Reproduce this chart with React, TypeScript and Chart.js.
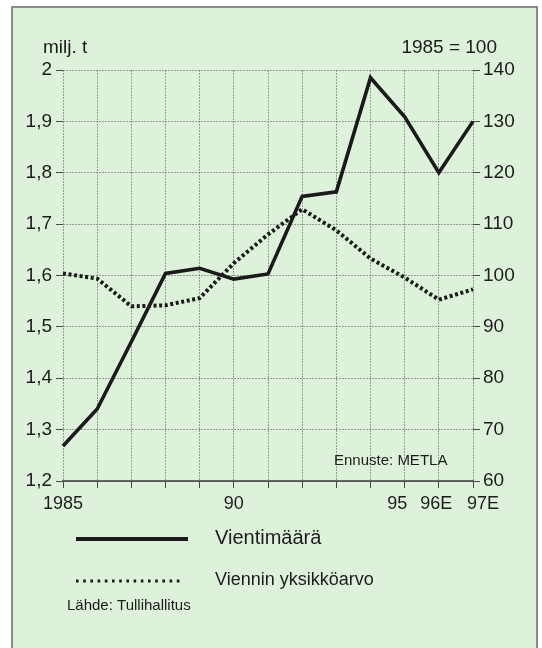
import React, { useEffect, useRef } from "react";
import { Chart, registerables } from "chart.js";

Chart.register(...registerables);

// ---- data ----
const years = ["1985", "1986", "1987", "1988", "1989", "1990", "1991", "1992", "1993", "1994", "1995", "1996E", "1997E"];
const xTickLabels = ["1985", "", "", "", "", "90", "", "", "", "", "95   ", "96E ", "    97E"];
const exportVolume = [1.268, 1.34, 1.471, 1.604, 1.614, 1.593, 1.603, 1.754, 1.763, 1.985, 1.909, 1.8, 1.9];
const unitValueIndex = [100.4, 99.4, 94.0, 94.2, 95.6, 102.4, 108.0, 112.9, 108.8, 103.3, 99.6, 95.3, 97.3];
const seriesNames = ["Vientimäärä", "Viennin yksikköarvo"];
const leftUnit = "milj. t";
const rightUnit = "1985 = 100";
const forecastNote = "Ennuste: METLA";
const sourceNote = "Lähde: Tullihallitus";

const FONT = '"Liberation Sans", Arial, Helvetica, sans-serif';
const TEXT = "#1c1c1c";
const LINE = "#1a1a1a";
const GRID = "rgba(120,132,118,0.75)";
const TICK = "#4a4a4a";

const annotations = {
  id: "annotations",
  afterDraw(chart: any) {
    const ctx = chart.ctx as CanvasRenderingContext2D;
    const area = chart.chartArea;
    ctx.save();
    // solid bottom axis line
    ctx.strokeStyle = "#3a3a3a";
    ctx.lineWidth = 1.5;
    ctx.beginPath();
    ctx.moveTo(area.left - 1, area.bottom);
    ctx.lineTo(area.right + 1, area.bottom);
    ctx.stroke();

    ctx.fillStyle = TEXT;
    ctx.textBaseline = "alphabetic";
    ctx.font = `19px ${FONT}`;
    ctx.textAlign = "left";
    ctx.fillText(leftUnit, 43, 53);
    ctx.textAlign = "right";
    ctx.fillText(rightUnit, 497, 53);
    ctx.textAlign = "left";
    ctx.font = `15px ${FONT}`;
    ctx.fillText(forecastNote, 334, 465);

    // legend
    const dsets = chart.data.datasets;
    const rows = [
      { y: 539, textY: 544, size: 20, x2: 188 },
      { y: 581, textY: 585, size: 18, x2: 184 },
    ];
    rows.forEach((r, i) => {
      const ds = dsets[i];
      ctx.save();
      ctx.strokeStyle = ds.borderColor;
      ctx.lineWidth = i === 0 ? 4 : 3;
      ctx.lineCap = "butt";
      ctx.setLineDash(i === 0 ? [] : [2.6, 4.6]);
      ctx.beginPath();
      ctx.moveTo(76, r.y);
      ctx.lineTo(r.x2, r.y);
      ctx.stroke();
      ctx.restore();
      ctx.font = `${r.size}px ${FONT}`;
      ctx.fillText(ds.label, 215, r.textY);
    });
    ctx.font = `15px ${FONT}`;
    ctx.fillText(sourceNote, 67, 610);
    ctx.restore();
  },
};

export default function App() {
  const ref = useRef<HTMLCanvasElement | null>(null);

  useEffect(() => {
    if (!ref.current) return;
    const chart = new Chart(ref.current, {
      type: "line",
      data: {
        labels: years,
        datasets: [
          {
            label: seriesNames[0],
            data: exportVolume,
            yAxisID: "y",
            borderColor: LINE,
            borderWidth: 3.6,
            pointRadius: 0,
            tension: 0,
            borderJoinStyle: "miter",
          },
          {
            label: seriesNames[1],
            data: unitValueIndex,
            yAxisID: "y1",
            borderColor: LINE,
            borderWidth: 4,
            borderDash: [3, 2.6],
            borderCapStyle: "butt",
            pointRadius: 0,
            tension: 0,
          },
        ],
      },
      options: {
        responsive: false,
        animation: false,
        events: [],
        layout: { padding: { left: 0, right: 0, top: 70, bottom: 137 } },
        plugins: { legend: { display: false }, tooltip: { enabled: false }, title: { display: false } },
        scales: {
          x: {
            type: "category",
            offset: false,
            afterFit: (s: any) => {
              s.height = 30;
            },
            grid: {
              color: GRID,
              lineWidth: 1,
              drawTicks: true,
              tickLength: 7,
              tickColor: TICK,
              tickWidth: 1,
            },
            border: { display: false, dash: [2, 1] },
            ticks: {
              autoSkip: false,
              maxRotation: 0,
              minRotation: 0,
              padding: 5,
              color: TEXT,
              font: { family: FONT, size: 18 },
              callback: (_v: any, i: number) => xTickLabels[i],
            },
          },
          y: {
            position: "left",
            min: 1.2,
            max: 2.0,
            afterFit: (s: any) => {
              s.width = 63;
            },
            grid: {
              color: GRID,
              lineWidth: 1,
              drawTicks: true,
              tickLength: 7,
              tickColor: TICK,
              tickWidth: 1,
            },
            border: { display: false, dash: [2, 1] },
            ticks: {
              stepSize: 0.1,
              padding: 4,
              color: TEXT,
              font: { family: FONT, size: 19 },
              callback: (v: any) => (Math.round(Number(v) * 10) / 10).toString().replace(".", ","),
            },
          },
          y1: {
            position: "right",
            min: 60,
            max: 140,
            afterFit: (s: any) => {
              s.width = 69;
            },
            grid: {
              drawOnChartArea: false,
              drawTicks: true,
              tickLength: 7,
              tickColor: TICK,
              tickWidth: 1,
            },
            border: { display: false },
            ticks: {
              stepSize: 10,
              padding: 3,
              color: TEXT,
              font: { family: FONT, size: 19 },
            },
          },
        },
      },
      plugins: [annotations],
    } as any);
    return () => chart.destroy();
  }, []);

  return (
    <div style={{ position: "fixed", left: 0, top: 0, width: 542, height: 648, background: "#ffffff", overflow: "hidden" }}>
      <div
        style={{
          position: "absolute",
          left: 11,
          top: 6,
          width: 527,
          height: 660,
          boxSizing: "border-box",
          border: "2px solid #8a8a8a",
          background: "#def1da",
        }}
      />
      <canvas ref={ref} width={542} height={648} style={{ position: "absolute", left: 0, top: 0, width: 542, height: 648 }} />
    </div>
  );
}
